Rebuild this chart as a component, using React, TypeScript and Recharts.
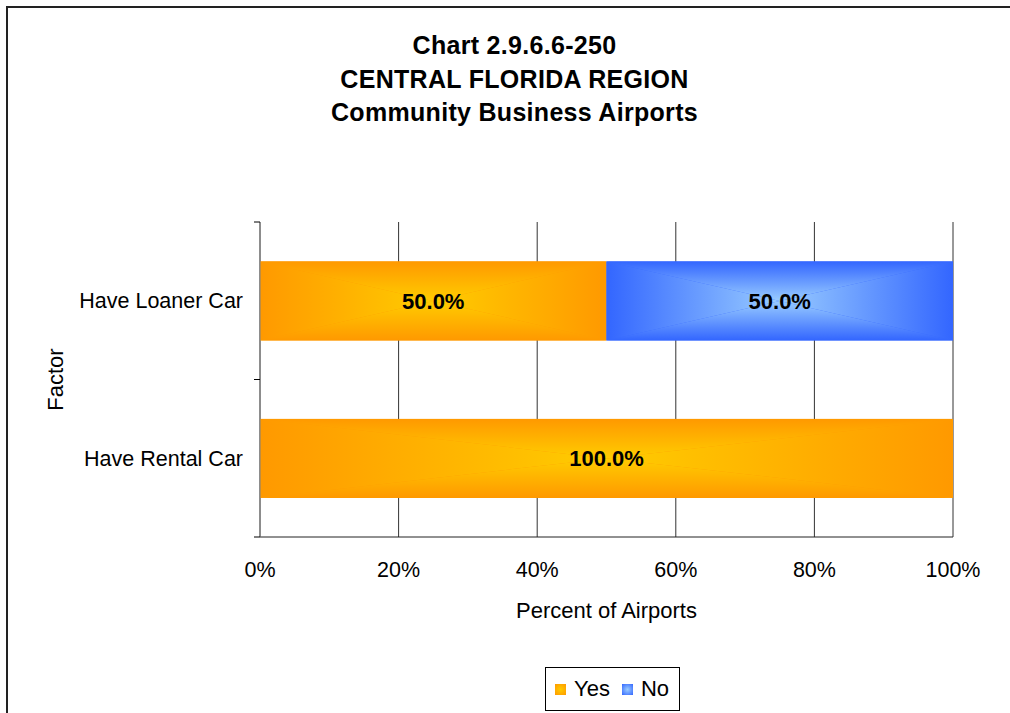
import React from 'react';
import { BarChart, Bar, XAxis, YAxis, CartesianGrid, LabelList } from 'recharts';

const factors = ['Have Loaner Car', 'Have Rental Car'];
const yesValues = [50, 100];
const noValues = [50, 0];
const xTicks = [0, 20, 40, 60, 80, 100];
const titleLines = ['Chart 2.9.6.6-250', 'CENTRAL FLORIDA REGION', 'Community Business Airports'];
const seriesNames = ['Yes', 'No'];

const data = factors.map((f, i) => ({ factor: f, yes: yesValues[i], no: noValues[i] }));

const FONT = '"Liberation Sans", Arial, Helvetica, sans-serif';
const Y_TICK_MARGIN = 17;

const palette: Record<string, { edge: string; center: string }> = {
  yes: { edge: '#FF9900', center: '#FFCC00' },
  no: { edge: '#3366FF', center: '#99CCFF' },
};
const seriesKeys = ['yes', 'no'];

const GradDefs = () => (
  <defs>
    {Object.keys(palette).map((k) => {
      const { edge, center } = palette[k];
      return (
        <React.Fragment key={k}>
          <linearGradient id={`${k}-l`} x1="0" y1="0" x2="1" y2="0">
            <stop offset="0" stopColor={edge} />
            <stop offset="1" stopColor={center} />
          </linearGradient>
          <linearGradient id={`${k}-r`} x1="1" y1="0" x2="0" y2="0">
            <stop offset="0" stopColor={edge} />
            <stop offset="1" stopColor={center} />
          </linearGradient>
          <linearGradient id={`${k}-t`} x1="0" y1="0" x2="0" y2="1">
            <stop offset="0" stopColor={edge} />
            <stop offset="1" stopColor={center} />
          </linearGradient>
          <linearGradient id={`${k}-b`} x1="0" y1="1" x2="0" y2="0">
            <stop offset="0" stopColor={edge} />
            <stop offset="1" stopColor={center} />
          </linearGradient>
        </React.Fragment>
      );
    })}
  </defs>
);

const makeShape = (key: string) => (props: any) => {
  const { x, y, width, height } = props;
  if (!width || width <= 0 || !height) return <g />;
  const cx = x + width / 2;
  const cy = y + height / 2;
  const x2 = x + width;
  const y2 = y + height;
  return (
    <g>
      <rect x={x} y={y} width={width} height={height} fill={palette[key].edge} />
      <polygon points={`${x},${y} ${x},${y2} ${cx},${cy}`} fill={`url(#${key}-l)`} />
      <polygon points={`${x2},${y} ${x2},${y2} ${cx},${cy}`} fill={`url(#${key}-r)`} />
      <polygon points={`${x},${y} ${x2},${y} ${cx},${cy}`} fill={`url(#${key}-t)`} />
      <polygon points={`${x},${y2} ${x2},${y2} ${cx},${cy}`} fill={`url(#${key}-b)`} />
    </g>
  );
};

const CategoryTick = (props: any) => {
  const { x, y, payload } = props;
  const half = payload && payload.offset ? payload.offset : 0;
  const ax = x + Y_TICK_MARGIN;
  return (
    <g>
      <text x={x} y={y} dy="0.355em" textAnchor="end" fill="#000" fontSize={21.5} fontFamily={FONT}>
        {payload.value}
      </text>
      {half > 0 && (
        <>
          <line x1={ax - 6} x2={ax} y1={y - half} y2={y - half} stroke="#000" strokeWidth={1} />
          <line x1={ax - 6} x2={ax} y1={y + half} y2={y + half} stroke="#000" strokeWidth={1} />
        </>
      )}
    </g>
  );
};

const fmtLabel = (v: any) => (Number(v) > 0 ? `${Number(v).toFixed(1)}%` : '');

export default function App() {
  return (
    <div style={{ position: 'absolute', left: 0, top: 0, width: 1010, height: 713, background: '#fff', fontFamily: FONT, overflow: 'hidden' }}>
      <div style={{ position: 'absolute', left: 6, top: 6, width: 1010, height: 713, borderLeft: '2px solid #222', borderTop: '2px solid #222' }} />
      <div style={{ position: 'absolute', left: 0, top: 29, width: 1029, textAlign: 'center', fontWeight: 'bold', fontSize: 25, letterSpacing: 0.3, lineHeight: '33.5px', color: '#000' }}>
        {titleLines.map((t) => (
          <div key={t}>{t}</div>
        ))}
      </div>
      <div style={{ position: 'absolute', left: 0, top: 0 }}>
        <BarChart
          width={1010}
          height={713}
          data={data}
          layout="vertical"
          barCategoryGap="25%"
          margin={{ top: 222, right: 57, left: 0, bottom: 0 }}
        >
          <GradDefs />
          <CartesianGrid horizontal={false} vertical={true} stroke="#333" strokeWidth={1} />
          <XAxis
            type="number"
            domain={[0, 100]}
            ticks={xTicks}
            tickFormatter={(v) => `${v}%`}
            height={176}
            tickLine={false}
            tickSize={0}
            tickMargin={25}
            axisLine={{ stroke: '#222' }}
            tick={{ fill: '#000', fontSize: 21.5, fontFamily: FONT }}
            interval={0}
            label={{ value: 'Percent of Airports', position: 'insideTop', offset: 65, fill: '#000', fontSize: 22, fontFamily: FONT }}
          />
          <YAxis
            type="category"
            dataKey="factor"
            width={260}
            tickSize={0}
            tickMargin={Y_TICK_MARGIN}
            tickLine={false}
            axisLine={{ stroke: '#808080' }}
            tick={<CategoryTick />}
            label={{ value: 'Factor', angle: -90, position: 'insideLeft', offset: 55, fill: '#000', fontSize: 22, fontFamily: FONT, style: { textAnchor: 'middle' } }}
          />
          <Bar dataKey="yes" name={seriesNames[0]} stackId="a" isAnimationActive={false} shape={makeShape('yes')}>
            <LabelList dataKey="yes" position="center" formatter={fmtLabel} fill="#000" fontSize={22} fontWeight="bold" fontFamily={FONT} />
          </Bar>
          <Bar dataKey="no" name={seriesNames[1]} stackId="a" isAnimationActive={false} shape={makeShape('no')}>
            <LabelList dataKey="no" position="center" formatter={fmtLabel} fill="#000" fontSize={22} fontWeight="bold" fontFamily={FONT} />
          </Bar>
        </BarChart>
      </div>
      <div style={{ position: 'absolute', left: 545, top: 667, width: 135, height: 44, border: '1px solid #000', boxSizing: 'border-box', display: 'flex', alignItems: 'center', paddingLeft: 9, fontSize: 22, color: '#000' }}>
        {seriesNames.map((n, i) => {
          const c = palette[seriesKeys[i]];
          return (
            <div key={n} style={{ display: 'flex', alignItems: 'center', marginRight: 12 }}>
              <span style={{ display: 'inline-block', width: 11, height: 11, background: `radial-gradient(${c.center}, ${c.edge})`, marginRight: 8 }} />
              <span>{n}</span>
            </div>
          );
        })}
      </div>
    </div>
  );
}
